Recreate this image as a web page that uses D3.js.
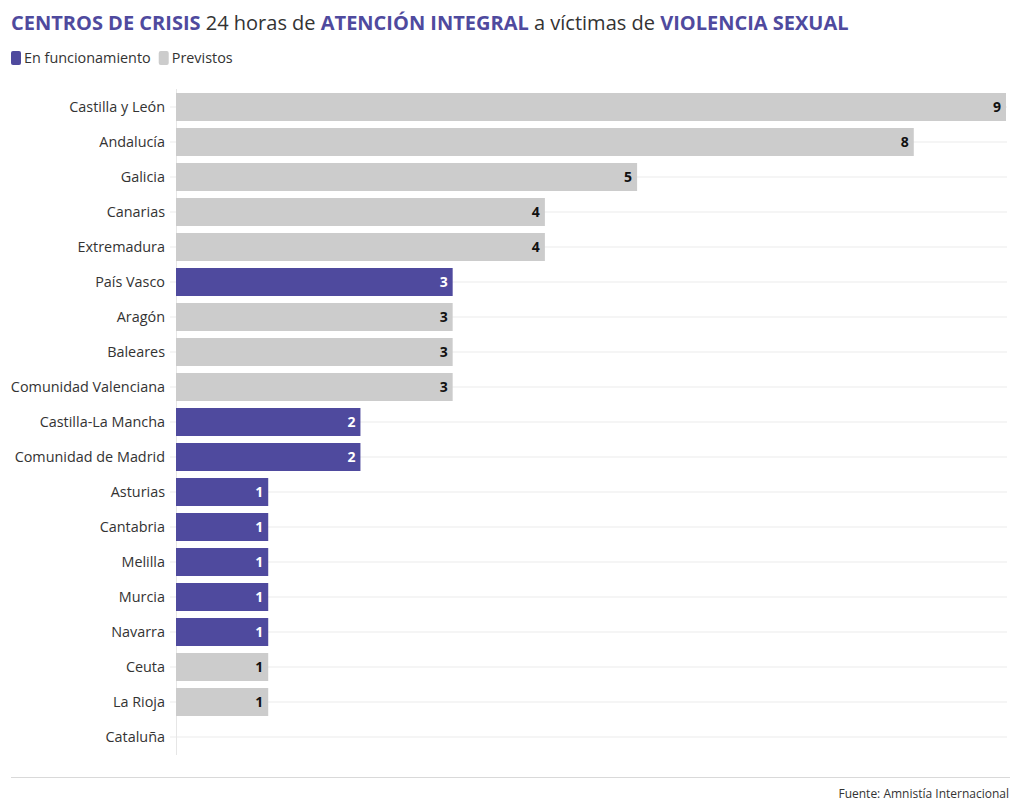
<!DOCTYPE html>
<html><head><meta charset="utf-8">
<script src="https://cdn.jsdelivr.net/npm/d3@7"></script>
<style>
body{margin:0;background:#fff;}
svg{display:block;font-family:"Open Sans","Noto Sans",sans-serif;}
</style></head>
<body><svg id="c" width="1020" height="812"></svg>
<script>
const categories = ["Castilla y León","Andalucía","Galicia","Canarias","Extremadura","País Vasco","Aragón","Baleares","Comunidad Valenciana","Castilla-La Mancha","Comunidad de Madrid","Asturias","Cantabria","Melilla","Murcia","Navarra","Ceuta","La Rioja","Cataluña"];
const values = [9,8,5,4,4,3,3,3,3,2,2,1,1,1,1,1,1,1,0];
const status = ["Previstos","Previstos","Previstos","Previstos","Previstos","En funcionamiento","Previstos","Previstos","Previstos","En funcionamiento","En funcionamiento","En funcionamiento","En funcionamiento","En funcionamiento","En funcionamiento","En funcionamiento","Previstos","Previstos","Previstos"];
const seriesNames = ["En funcionamiento","Previstos"];
const seriesColors = ["#4f4a9e","#cccccc"];
const labelColors = ["#ffffff","#111111"];
const titleParts = [["CENTROS DE CRISIS",true],[" 24 horas de ",false],["ATENCIÓN INTEGRAL",true],[" a víctimas de ",false],["VIOLENCIA SEXUAL",true]];
const source = "Fuente: Amnistía Internacional";

const svg = d3.select("#c");
const purple = "#4f4a9e";

// title
const t = svg.append("text").attr("x",11).attr("y",30).attr("font-size",20);
titleParts.forEach(([s,b])=>{
  t.append("tspan").text(s).attr("font-weight",b?700:400).attr("fill",b?purple:"#333");
});

// legend
const color = d3.scaleOrdinal().domain(seriesNames).range(seriesColors);
const lblColor = d3.scaleOrdinal().domain(seriesNames).range(labelColors);
let lx = 11;
seriesNames.forEach(n=>{
  svg.append("rect").attr("x",lx).attr("y",51).attr("width",10).attr("height",14).attr("rx",2).attr("fill",color(n));
  const tx = svg.append("text").attr("x",lx+13).attr("y",63).attr("font-size",14.4).attr("fill","#333").text(n);
  lx += 13 + tx.node().getComputedTextLength() + 8;
});

const x = d3.scaleLinear().domain([0,9]).range([176,1006]);
const y = d3.scaleBand().domain(categories).range([89.5,754.5]).paddingInner(0.2).paddingOuter(0.1);

// gridlines
svg.append("g").selectAll("line").data(categories).join("line")
  .attr("x1",170).attr("x2",1007)
  .attr("y1",d=>y(d)+y.bandwidth()/2).attr("y2",d=>y(d)+y.bandwidth()/2)
  .attr("stroke","#ebebeb").attr("stroke-width",1);
svg.append("line").attr("x1",176.5).attr("x2",176.5).attr("y1",89).attr("y2",755).attr("stroke","#e6e6e6");

// axis labels
const ya = svg.append("g").attr("transform","translate(170,0)").call(d3.axisLeft(y).tickSize(0).tickPadding(5));
ya.select(".domain").remove();
ya.selectAll("text").attr("font-size",14.4).attr("fill","#333").attr("dy","0.35em").attr("font-family","'Open Sans','Noto Sans',sans-serif");

// bars
const data = categories.map((c,i)=>({c,v:values[i],s:status[i]}));
svg.append("g").selectAll("rect").data(data.filter(d=>d.v>0)).join("rect")
  .attr("x",x(0)).attr("y",d=>y(d.c)).attr("width",d=>x(d.v)-x(0)).attr("height",y.bandwidth())
  .attr("fill",d=>color(d.s));
svg.append("g").selectAll("text").data(data.filter(d=>d.v>0)).join("text")
  .attr("x",d=>x(d.v)-5).attr("y",d=>y(d.c)+y.bandwidth()/2).attr("dy","0.38em")
  .attr("text-anchor","end").attr("font-size",14).attr("font-weight",700)
  .attr("fill",d=>lblColor(d.s)).text(d=>d.v);

// footer
svg.append("line").attr("x1",11).attr("x2",1010).attr("y1",777.5).attr("y2",777.5).attr("stroke","#d9d9d9");
svg.append("text").attr("x",1009).attr("y",798).attr("text-anchor","end").attr("font-size",12).attr("fill","#333").text(source);
</script></body></html>
